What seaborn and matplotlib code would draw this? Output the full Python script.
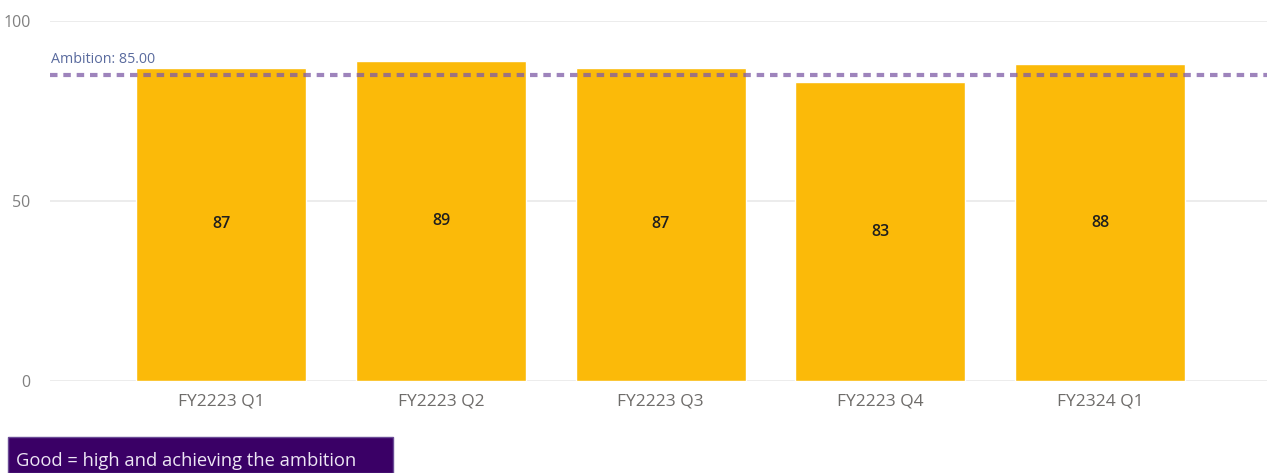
import matplotlib
matplotlib.use("Agg")
import matplotlib.pyplot as plt
from matplotlib.patches import Rectangle
import seaborn as sns
import pandas as pd

quarters = ["FY2223 Q1", "FY2223 Q2", "FY2223 Q3", "FY2223 Q4", "FY2324 Q1"]
scores = [87, 89, 87, 83, 88]
ambition = 85.0
y_ticks = [0, 50, 100]
note_text = "Good = high and achieving the ambition"

sns.set_theme(style="white")
plt.rcParams["font.family"] = ["Open Sans", "DejaVu Sans"]

df = pd.DataFrame({"quarter": quarters, "score": scores})

fig = plt.figure(figsize=(12.67, 4.73), dpi=100)
ax = fig.add_axes([50 / 1267, 1 - 381 / 473, 1 - 50 / 1267, (381 - 21) / 473])

sns.barplot(data=df, x="quarter", y="score", color="#FBBA09", saturation=1,
            width=0.775, ax=ax, zorder=2)

ax.set_ylim(0, 100)
ax.set_xlim(-0.78, 4.76)
ax.set_yticks(y_ticks)
ax.yaxis.grid(True, color="#E9E9E9", linewidth=1.2, zorder=0)
ax.set_axisbelow(True)
for s in ax.spines.values():
    s.set_visible(False)
ax.set_xlabel("")
ax.set_ylabel("")
ax.tick_params(axis="x", colors="#6E6C6A", labelsize=12.5, length=0, pad=9)
ax.tick_params(axis="y", colors="#808080", labelsize=11.5, length=0, pad=14)

# value labels in the middle of each bar
for i, v in enumerate(scores):
    ax.text(i, v / 2, f"{v}", ha="center", va="center", fontsize=11.5,
            color="#201F1E", fontweight="semibold", zorder=4)

# ambition reference line
ax.axhline(ambition, color="#7E5BA6", alpha=0.75, linewidth=3,
           linestyle=(0, (1.8, 1.4)), zorder=3)
ax.text(-0.775, ambition + 2.2, f"Ambition: {ambition:.2f}", ha="left",
        va="bottom", fontsize=10.3, color="#5A6B9E", zorder=4)

# footnote box
fig.patches.append(Rectangle((8 / 1267, 0), 385 / 1267, 36 / 473,
                             transform=fig.transFigure, facecolor="#3A0066",
                             edgecolor="#6A4C96", linewidth=1, zorder=5))
fig.text(16 / 1267, 12.5 / 473, note_text, ha="left", va="center",
         fontsize=13.2, color="#EDE6F4", zorder=6)

fig.savefig("out.png", dpi=100)
